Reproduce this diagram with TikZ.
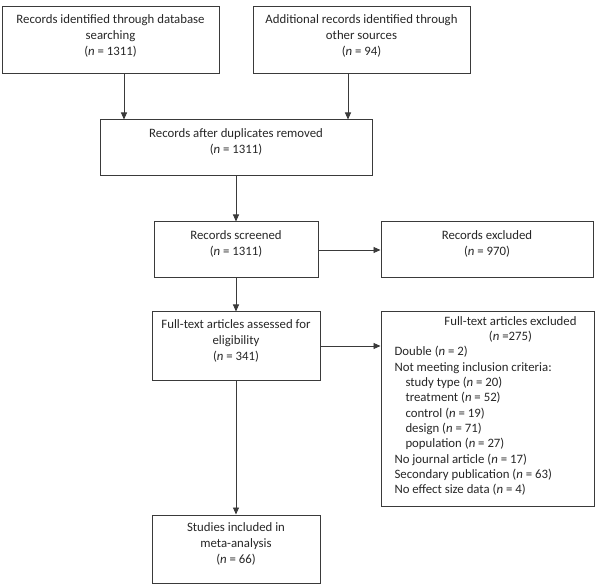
\documentclass[tikz,border=0pt]{standalone}
\usepackage{fontspec}
\setmainfont{Carlito}
\usetikzlibrary{arrows.meta,calc}
\definecolor{ln}{HTML}{3A3A3A}
\definecolor{tx}{HTML}{262626}
\tikzset{
  box/.style={draw=ln, line width=1pt, text=tx, align=center, inner sep=0pt,
    font=\fontsize{12.8}{16}\selectfont},
  arr/.style={draw=ln, line width=0.9pt, -{Triangle[length=7pt,width=6pt]}},
}
\newcommand{\nn}{\textit{n}}
\begin{document}
\begin{tikzpicture}[x=1pt,y=1pt]
\useasboundingbox (0,0) rectangle (599,584);
\node[box, minimum width=217, minimum height=67] (b1) at (110.5,543.5)
  {Records identified through database\\searching\\(\nn{} = 1311)\\[-5pt]};
\node[box, minimum width=217, minimum height=67] (b2) at (361.5,543.5)
  {Additional records identified through\\other sources\\(\nn{} = 94)\\[-5pt]};
\node[box, minimum width=272, minimum height=56] (b3) at (236,436)
  {Records after duplicates removed\\(\nn{} = 1311)\\[-3pt]};
\node[box, minimum width=164, minimum height=56] (b4) at (236,334)
  {Records screened\\(\nn{} = 1311)\\[-3pt]};
\node[box, minimum width=212, minimum height=56] (b5) at (487,334)
  {Records excluded\\(\nn{} = 970)\\[-3pt]};
\node[box, minimum width=168, minimum height=68] (b6) at (236,238)
  {Full-text articles assessed for\\eligibility\\(\nn{} = 341)\\[-5pt]};
\node[box, minimum width=213, minimum height=194] (b7) at (487.5,175) {};
\node[box, draw=none, align=left, anchor=north west,
  font=\fontsize{12.8}{15.3}\selectfont] (t7) at (394,268)
  {\makebox[232pt][c]{Full-text articles excluded}\\
   \makebox[232pt][c]{(\nn{} =275)}\\
   Double (\nn{} = 2)\\
   Not meeting inclusion criteria:\\
   \hspace*{11pt}study type (\nn{} = 20)\\
   \hspace*{11pt}treatment (\nn{} = 52)\\
   \hspace*{11pt}control (\nn{} = 19)\\
   \hspace*{11pt}design (\nn{} = 71)\\
   \hspace*{11pt}population (\nn{} = 27)\\
   No journal article (\nn{} = 17)\\
   Secondary publication (\nn{} = 63)\\
   No effect size data (\nn{} = 4)};
\node[box, minimum width=168, minimum height=68] (b8) at (236,35)
  {Studies included in\\meta-analysis\\(\nn{} = 66)\\[-5pt]};
\coordinate (a1) at ($(b1.south)+(13.5,0)$);
\coordinate (a2) at ($(b2.south)+(-13.5,0)$);
\draw[arr] (a1) -- (a1 |- b3.north);
\draw[arr] (a2) -- (a2 |- b3.north);
\draw[arr] (b3) -- (b4);
\draw[arr] (b4) -- (b5);
\draw[arr] (b4) -- (b6);
\draw[arr] (b6.east) -- (b6.east -| b7.west);
\draw[arr] (b6) -- (b8);
\end{tikzpicture}
\end{document}
